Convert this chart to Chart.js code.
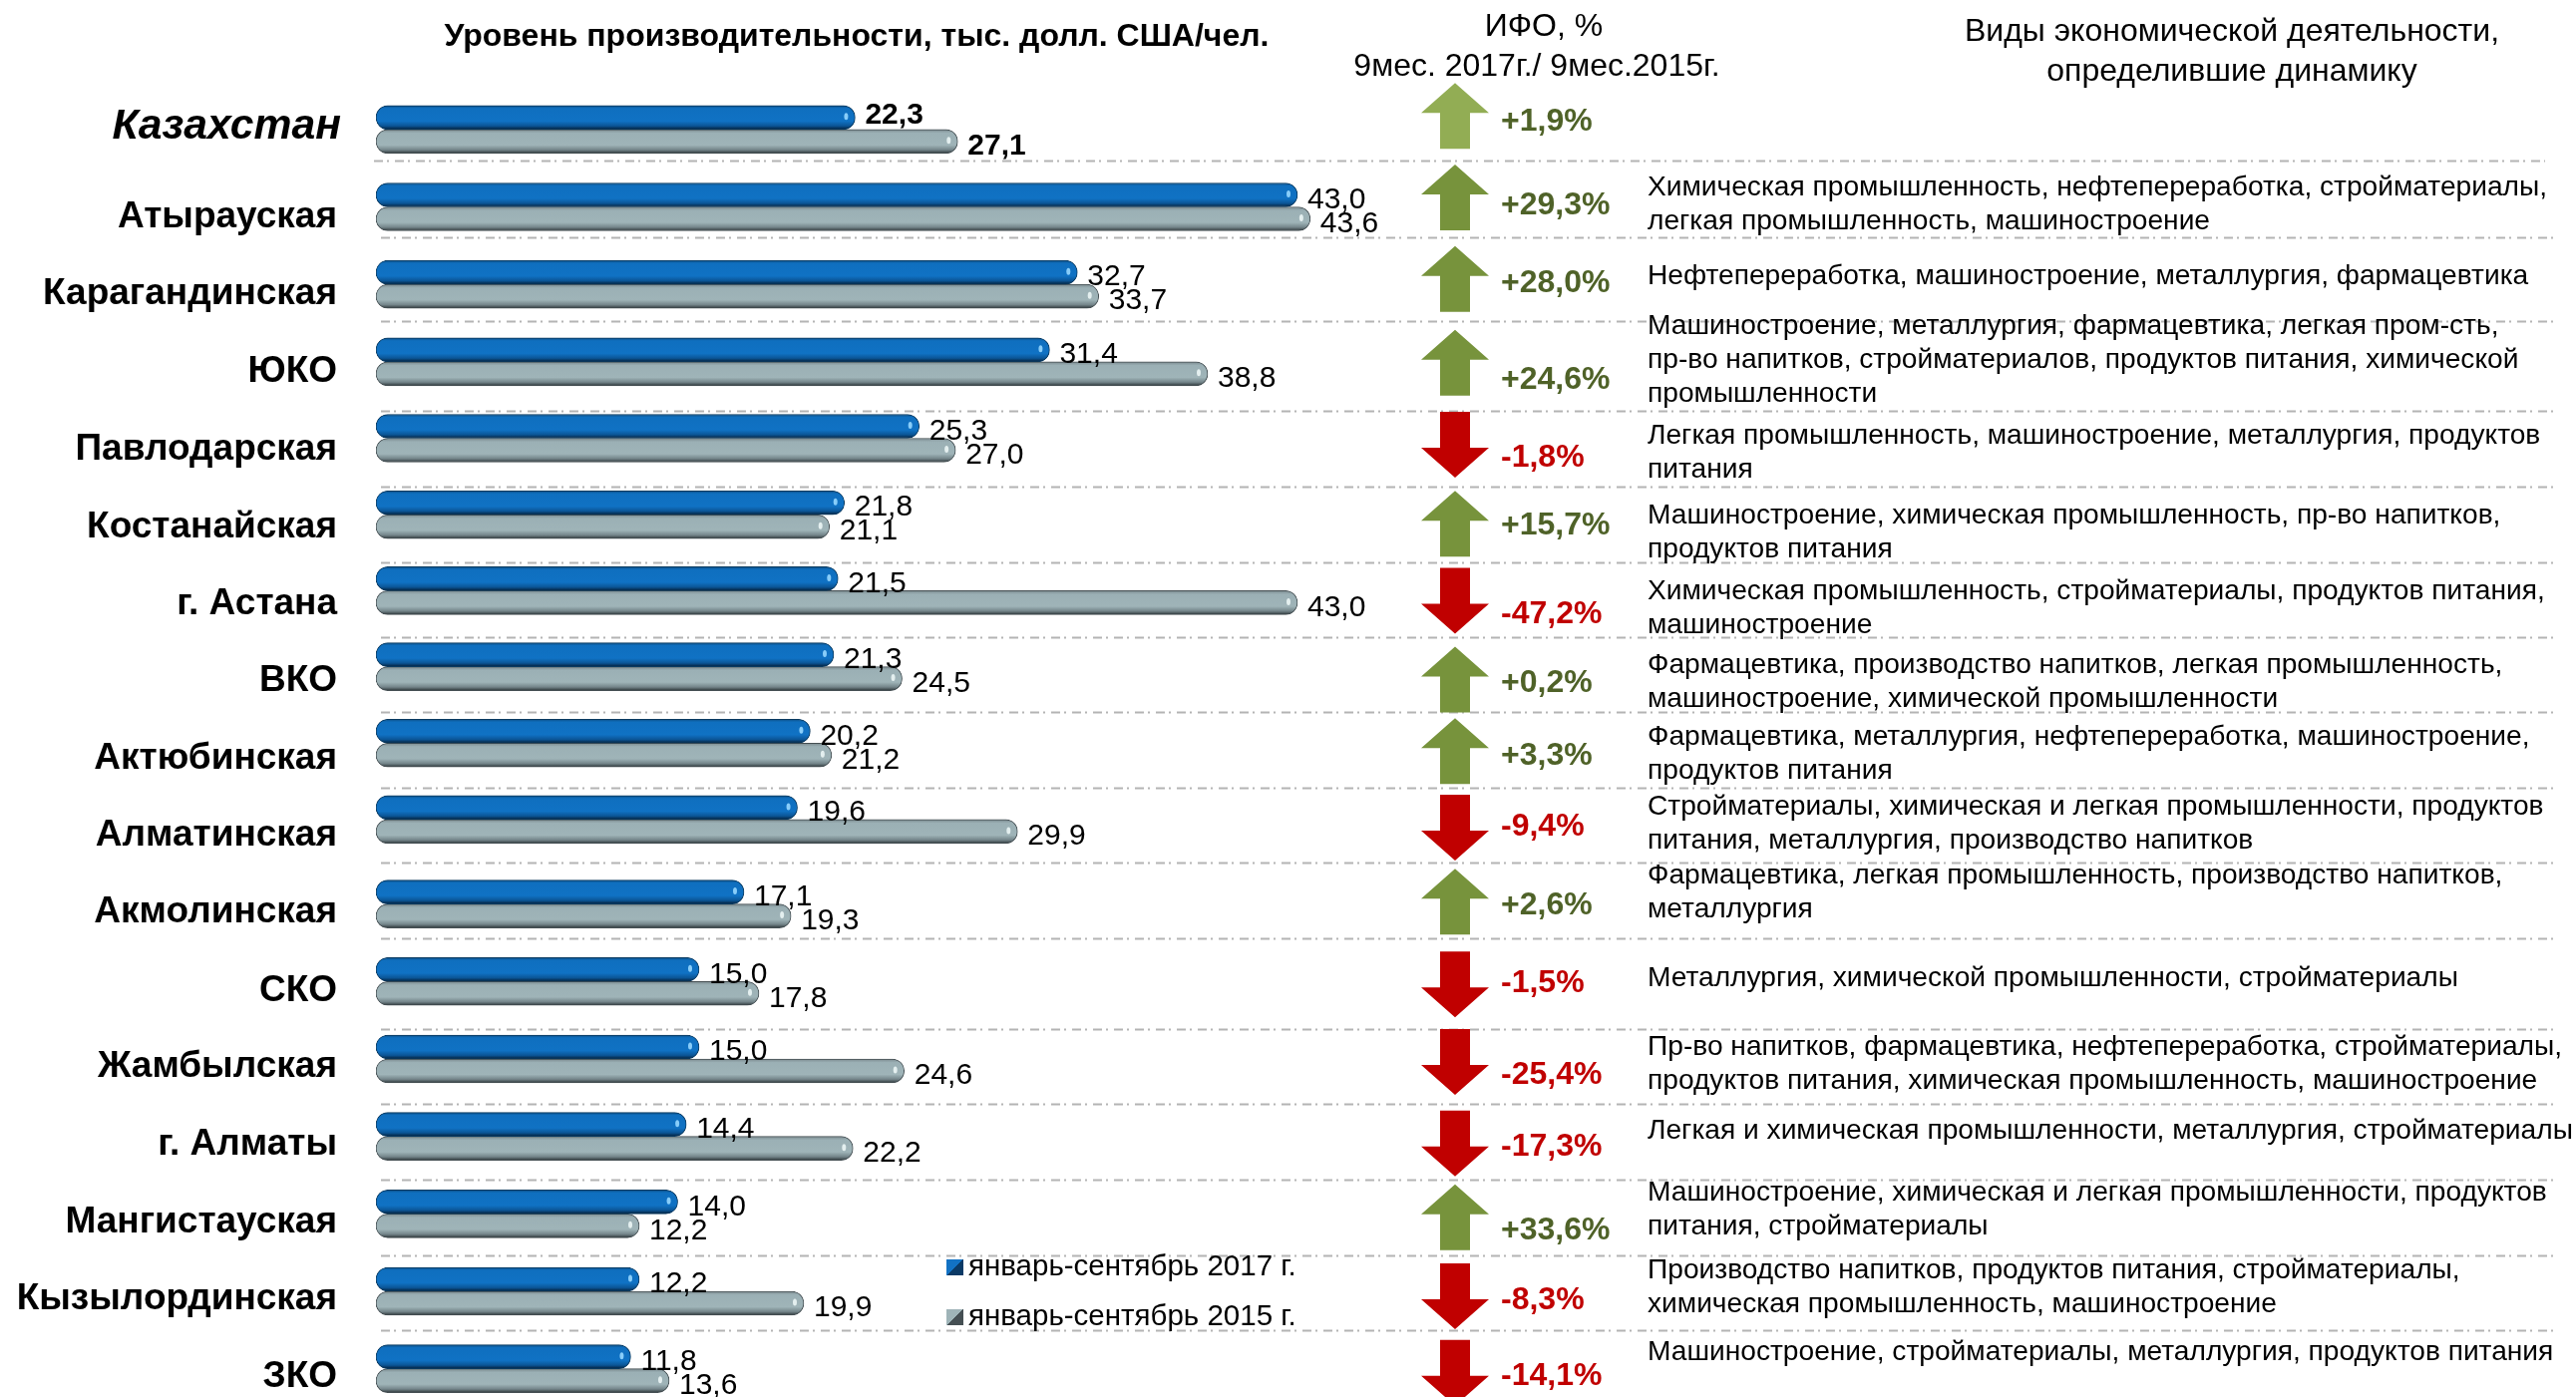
<!DOCTYPE html>
<html lang="ru">
<head>
<meta charset="utf-8">
<title>Уровень производительности</title>
<script src="https://cdn.jsdelivr.net/npm/chart.js@4"></script>
<style>
html, body { margin: 0; padding: 0; width: 2583px; height: 1401px; overflow: hidden; background: #fff; }
canvas { display: block; }
</style>
</head>
<body>
<canvas id="myChart" width="2583" height="1440"></canvas>
<script>
const regions = ['Казахстан', 'Атырауская', 'Карагандинская', 'ЮКО', 'Павлодарская', 'Костанайская', 'г. Астана', 'ВКО', 'Актюбинская', 'Алматинская', 'Акмолинская', 'СКО', 'Жамбылская', 'г. Алматы', 'Мангистауская', 'Кызылординская', 'ЗКО'];
const values2017 = [22.3, 43.0, 32.7, 31.4, 25.3, 21.8, 21.5, 21.3, 20.2, 19.6, 17.1, 15.0, 15.0, 14.4, 14.0, 12.2, 11.8];
const values2015 = [27.1, 43.6, 33.7, 38.8, 27.0, 21.1, 43.0, 24.5, 21.2, 29.9, 19.3, 17.8, 24.6, 22.2, 12.2, 19.9, 13.6];
const ifo = [1.9, 29.3, 28.0, 24.6, -1.8, 15.7, -47.2, 0.2, 3.3, -9.4, 2.6, -1.5, -25.4, -17.3, 33.6, -8.3, -14.1];
const activities = [
    [],
    ['Химическая промышленность, нефтепереработка, стройматериалы,', 'легкая промышленность, машиностроение'],
    ['Нефтепереработка, машиностроение, металлургия, фармацевтика'],
    ['Машиностроение, металлургия, фармацевтика, легкая пром-сть,', 'пр-во напитков, стройматериалов, продуктов питания, химической', 'промышленности'],
    ['Легкая промышленность, машиностроение, металлургия, продуктов', 'питания'],
    ['Машиностроение, химическая промышленность, пр-во напитков,', 'продуктов питания'],
    ['Химическая промышленность, стройматериалы, продуктов питания,', 'машиностроение'],
    ['Фармацевтика, производство напитков, легкая промышленность,', 'машиностроение, химической промышленности'],
    ['Фармацевтика, металлургия, нефтепереработка, машиностроение,', 'продуктов питания'],
    ['Стройматериалы, химическая и легкая промышленности, продуктов', 'питания, металлургия, производство напитков'],
    ['Фармацевтика, легкая промышленность, производство напитков,', 'металлургия'],
    ['Металлургия, химической промышленности, стройматериалы'],
    ['Пр-во напитков, фармацевтика, нефтепереработка, стройматериалы,', 'продуктов питания, химическая промышленность, машиностроение'],
    ['Легкая и химическая промышленности, металлургия, стройматериалы'],
    ['Машиностроение, химическая и легкая промышленности, продуктов', 'питания, стройматериалы'],
    ['Производство напитков, продуктов питания, стройматериалы,', 'химическая промышленность, машиностроение'],
    ['Машиностроение, стройматериалы, металлургия, продуктов питания']
];
const seriesNames = ['январь-сентябрь 2017 г.', 'январь-сентябрь 2015 г.'];
const titleText = 'Уровень производительности, тыс. долл. США/чел.';
const ifoHeader = ['ИФО, %', '9мес. 2017г./ 9мес.2015г.'];
const activityHeader = ['Виды экономической деятельности,', 'определившие динамику'];

// the slide was laid out by hand, so the rows are not quite even: nudges in px from the row centre
const rowShift = [0, 0, 0, 0, -1, -2, -3.5, -5, -6, -7, 0, 0, 0, 0, 0, 0, 0];
const tickShift = [-3, 10, 10, 10, 11, 13, 13, 14.5, 16, 16, 8, 9.5, 8, 8, 8, 8, 8];
const arrowShift = [-13.5, -9.5, -5.5, 1, 6.4, 9, 10, 13, 8, 8, -2.3, 3, 3, 7, 3.5, 5, 4];
const ifoShift = [-7.5, -1.5, -1.5, 18, 20, 10.7, 24, 17, 12.5, 7, 2, 2, 16, 10.7, 16.5, 9.5, 8];
const activityShift = [0, -19, -8, -36, -2, 1, 0.5, -1, -6, -13, -28, -3, -12, -5, -21, -21, -16];
const dividerGap = [31, 30, 37, 49.5, 48, 47.7, 46.5, 45, 44.7, 43.3, 34, 47.7, 45, 43, 41.5, 39];

const FONT = '"Liberation Sans", Arial, sans-serif';
Chart.defaults.font.family = FONT;
Chart.defaults.color = '#000';

class RowScale extends Chart.CategoryScale {
    static id = 'rowCategory';
    static defaults = Chart.CategoryScale.defaults;
    getPixelForValue(value) {
        return super.getPixelForValue(value) + (rowShift[value] || 0);
    }
    getPixelForTick(index) {
        return super.getPixelForTick(index) + tickShift[index];
    }
    // no extra room for the tick labels, the chart area is set by layout.padding
    getPadding() {
        return { left: 0, right: 0, top: 0, bottom: 0 };
    }
    // the italic headline row sits a little further right than the others
    _computeLabelItems(chartArea) {
        const items = super._computeLabelItems(chartArea);
        items[0].options.translation[0] += 4;
        return items;
    }
}
Chart.register(RowScale);

function barGradient(ctx, stops, fallback) {
    if (ctx.dataIndex === undefined || !ctx.chart.chartArea) return fallback;
    const centre = ctx.chart.scales.y.getPixelForValue(ctx.dataIndex);
    const top = ctx.datasetIndex === 0 ? centre - 24 : centre;
    const g = ctx.chart.ctx.createLinearGradient(0, top, 0, top + 24);
    stops.forEach((s) => g.addColorStop(s[0], s[1]));
    return g;
}
const blueStops = [[0, '#0d4f85'], [0.12, '#0f6fbf'], [0.65, '#1072c4'], [0.85, '#0b5596'], [1, '#04203a']];
const greyStops = [[0, '#7b8a8f'], [0.15, '#9bb0b5'], [0.65, '#9fb4b8'], [0.85, '#74858a'], [1, '#2d3639']];

function fmt(v) {
    return v.toFixed(1).replace('.', ',');
}

function drawText(c, text, x, y, font, color, align) {
    c.font = font;
    c.fillStyle = color;
    c.textAlign = align || 'left';
    c.textBaseline = 'middle';
    c.fillText(text, x, y);
}

const slidePlugin = {
    id: 'slide',
    beforeDatasetsDraw(chart) {
        const c = chart.ctx;
        const y = chart.scales.y;
        c.save();
        c.strokeStyle = '#b4b4b4';
        c.lineWidth = 2;
        c.setLineDash([9, 4, 2, 6]);
        dividerGap.forEach((gap, i) => {
            const py = Math.round(y.getPixelForValue(i) + gap) + 0.5;
            c.beginPath();
            c.moveTo(i === 0 ? 375 : 382, py);
            c.lineTo(i === 0 ? 2552 : 2560, py);
            c.stroke();
        });
        c.restore();
    },
    afterDatasetsDraw(chart) {
        const c = chart.ctx;
        const y = chart.scales.y;
        c.save();

        // highlights on the bar ends and the value labels
        chart.data.datasets.forEach((ds, d) => {
            chart.getDatasetMeta(d).data.forEach((bar, i) => {
                c.fillStyle = d === 0 ? 'rgba(150,215,255,0.9)' : 'rgba(235,245,245,0.9)';
                c.beginPath();
                c.ellipse(bar.x - 9, bar.y - 1, 2, 3.5, 0, 0, Math.PI * 2);
                c.fill();
                const nudge = i === 0 ? (d === 0 ? -2 : 4.5) : 5;
                const font = (i === 0 ? 'bold ' : '') + '30px ' + FONT;
                drawText(c, fmt(ds.data[i]), bar.x + 10, bar.y + nudge, font, '#000');
            });
        });

        // IFO arrows, their labels and the activity notes
        regions.forEach((name, i) => {
            const centre = y.getPixelForValue(i);
            const up = ifo[i] >= 0;
            const my = centre + arrowShift[i];
            const dir = up ? -1 : 1;
            c.fillStyle = up ? (i === 0 ? '#92ad54' : '#77933c') : '#c00000';
            c.beginPath();
            c.moveTo(1459, my + dir * 33);
            c.lineTo(1493, my - dir * -3);
            c.lineTo(1474, my - dir * -3);
            c.lineTo(1474, my - dir * 33);
            c.lineTo(1444, my - dir * 33);
            c.lineTo(1444, my - dir * -3);
            c.lineTo(1425, my - dir * -3);
            c.closePath();
            c.fill();

            const label = (up ? '+' : '-') + fmt(Math.abs(ifo[i])) + '%';
            drawText(c, label, 1505, centre + ifoShift[i], 'bold 32px ' + FONT, up ? '#4f6228' : '#c00000');

            activities[i].forEach((line, n) => {
                drawText(c, line, 1652, centre + activityShift[i] + n * 34, '28.15px ' + FONT, '#000');
            });
        });

        // headers
        drawText(c, titleText, 859, 37, 'bold 32px ' + FONT, '#000', 'center');
        drawText(c, ifoHeader[0], 1548, 27, '32px ' + FONT, '#000', 'center');
        drawText(c, ifoHeader[1], 1541, 67.5, '32px ' + FONT, '#000', 'center');
        drawText(c, activityHeader[0], 2238, 32, '32px ' + FONT, '#000', 'center');
        drawText(c, activityHeader[1], 2238, 72, '32px ' + FONT, '#000', 'center');

        // legend
        seriesNames.forEach((name, i) => {
            const ly = i === 0 ? 1271 : 1321;
            const g = c.createLinearGradient(949, ly - 8, 966, ly + 8);
            g.addColorStop(0, i === 0 ? '#1272c4' : '#9fb4b8');
            g.addColorStop(0.5, i === 0 ? '#1272c4' : '#9fb4b8');
            g.addColorStop(0.5, i === 0 ? '#0b3a66' : '#454f53');
            g.addColorStop(1, i === 0 ? '#0b3a66' : '#454f53');
            c.fillStyle = g;
            c.fillRect(949, ly - 8, 17, 16);
            drawText(c, name, 971, ly, '29.5px ' + FONT, '#000');
        });
        c.restore();
    }
};

new Chart(document.getElementById('myChart'), {
    type: 'bar',
    data: {
        labels: regions,
        datasets: [{
            label: seriesNames[0],
            data: values2017,
            base: -0.12,
            backgroundColor: (ctx) => barGradient(ctx, blueStops, '#1072c4'),
            borderColor: '#0a3a60',
            borderWidth: 1,
            borderRadius: 12,
            borderSkipped: false,
            barThickness: 24
        }, {
            label: seriesNames[1],
            data: values2015,
            base: -0.12,
            backgroundColor: (ctx) => barGradient(ctx, greyStops, '#9fb4b8'),
            borderColor: '#454f53',
            borderWidth: 1,
            borderRadius: 12,
            borderSkipped: false,
            barThickness: 24
        }]
    },
    options: {
        indexAxis: 'y',
        responsive: false,
        animation: false,
        layout: { padding: { top: 91, bottom: 28.5, left: 0, right: 1132 } },
        plugins: { legend: { display: false }, title: { display: false }, tooltip: { enabled: false } },
        scales: {
            x: { display: false, min: -0.12, max: 50 },
            y: {
                type: 'rowCategory',
                afterFit: (scale) => { scale.width = 377; },
                grid: { display: false, drawTicks: false },
                border: { display: false },
                ticks: {
                    autoSkip: false,
                    padding: 39,
                    color: '#000',
                    font: (ctx) => (ctx.index === 0
                        ? { size: 42.7, weight: 'bold', style: 'italic' }
                        : { size: 37, weight: 'bold' })
                }
            }
        }
    },
    plugins: [slidePlugin]
});
</script>
</body>
</html>
